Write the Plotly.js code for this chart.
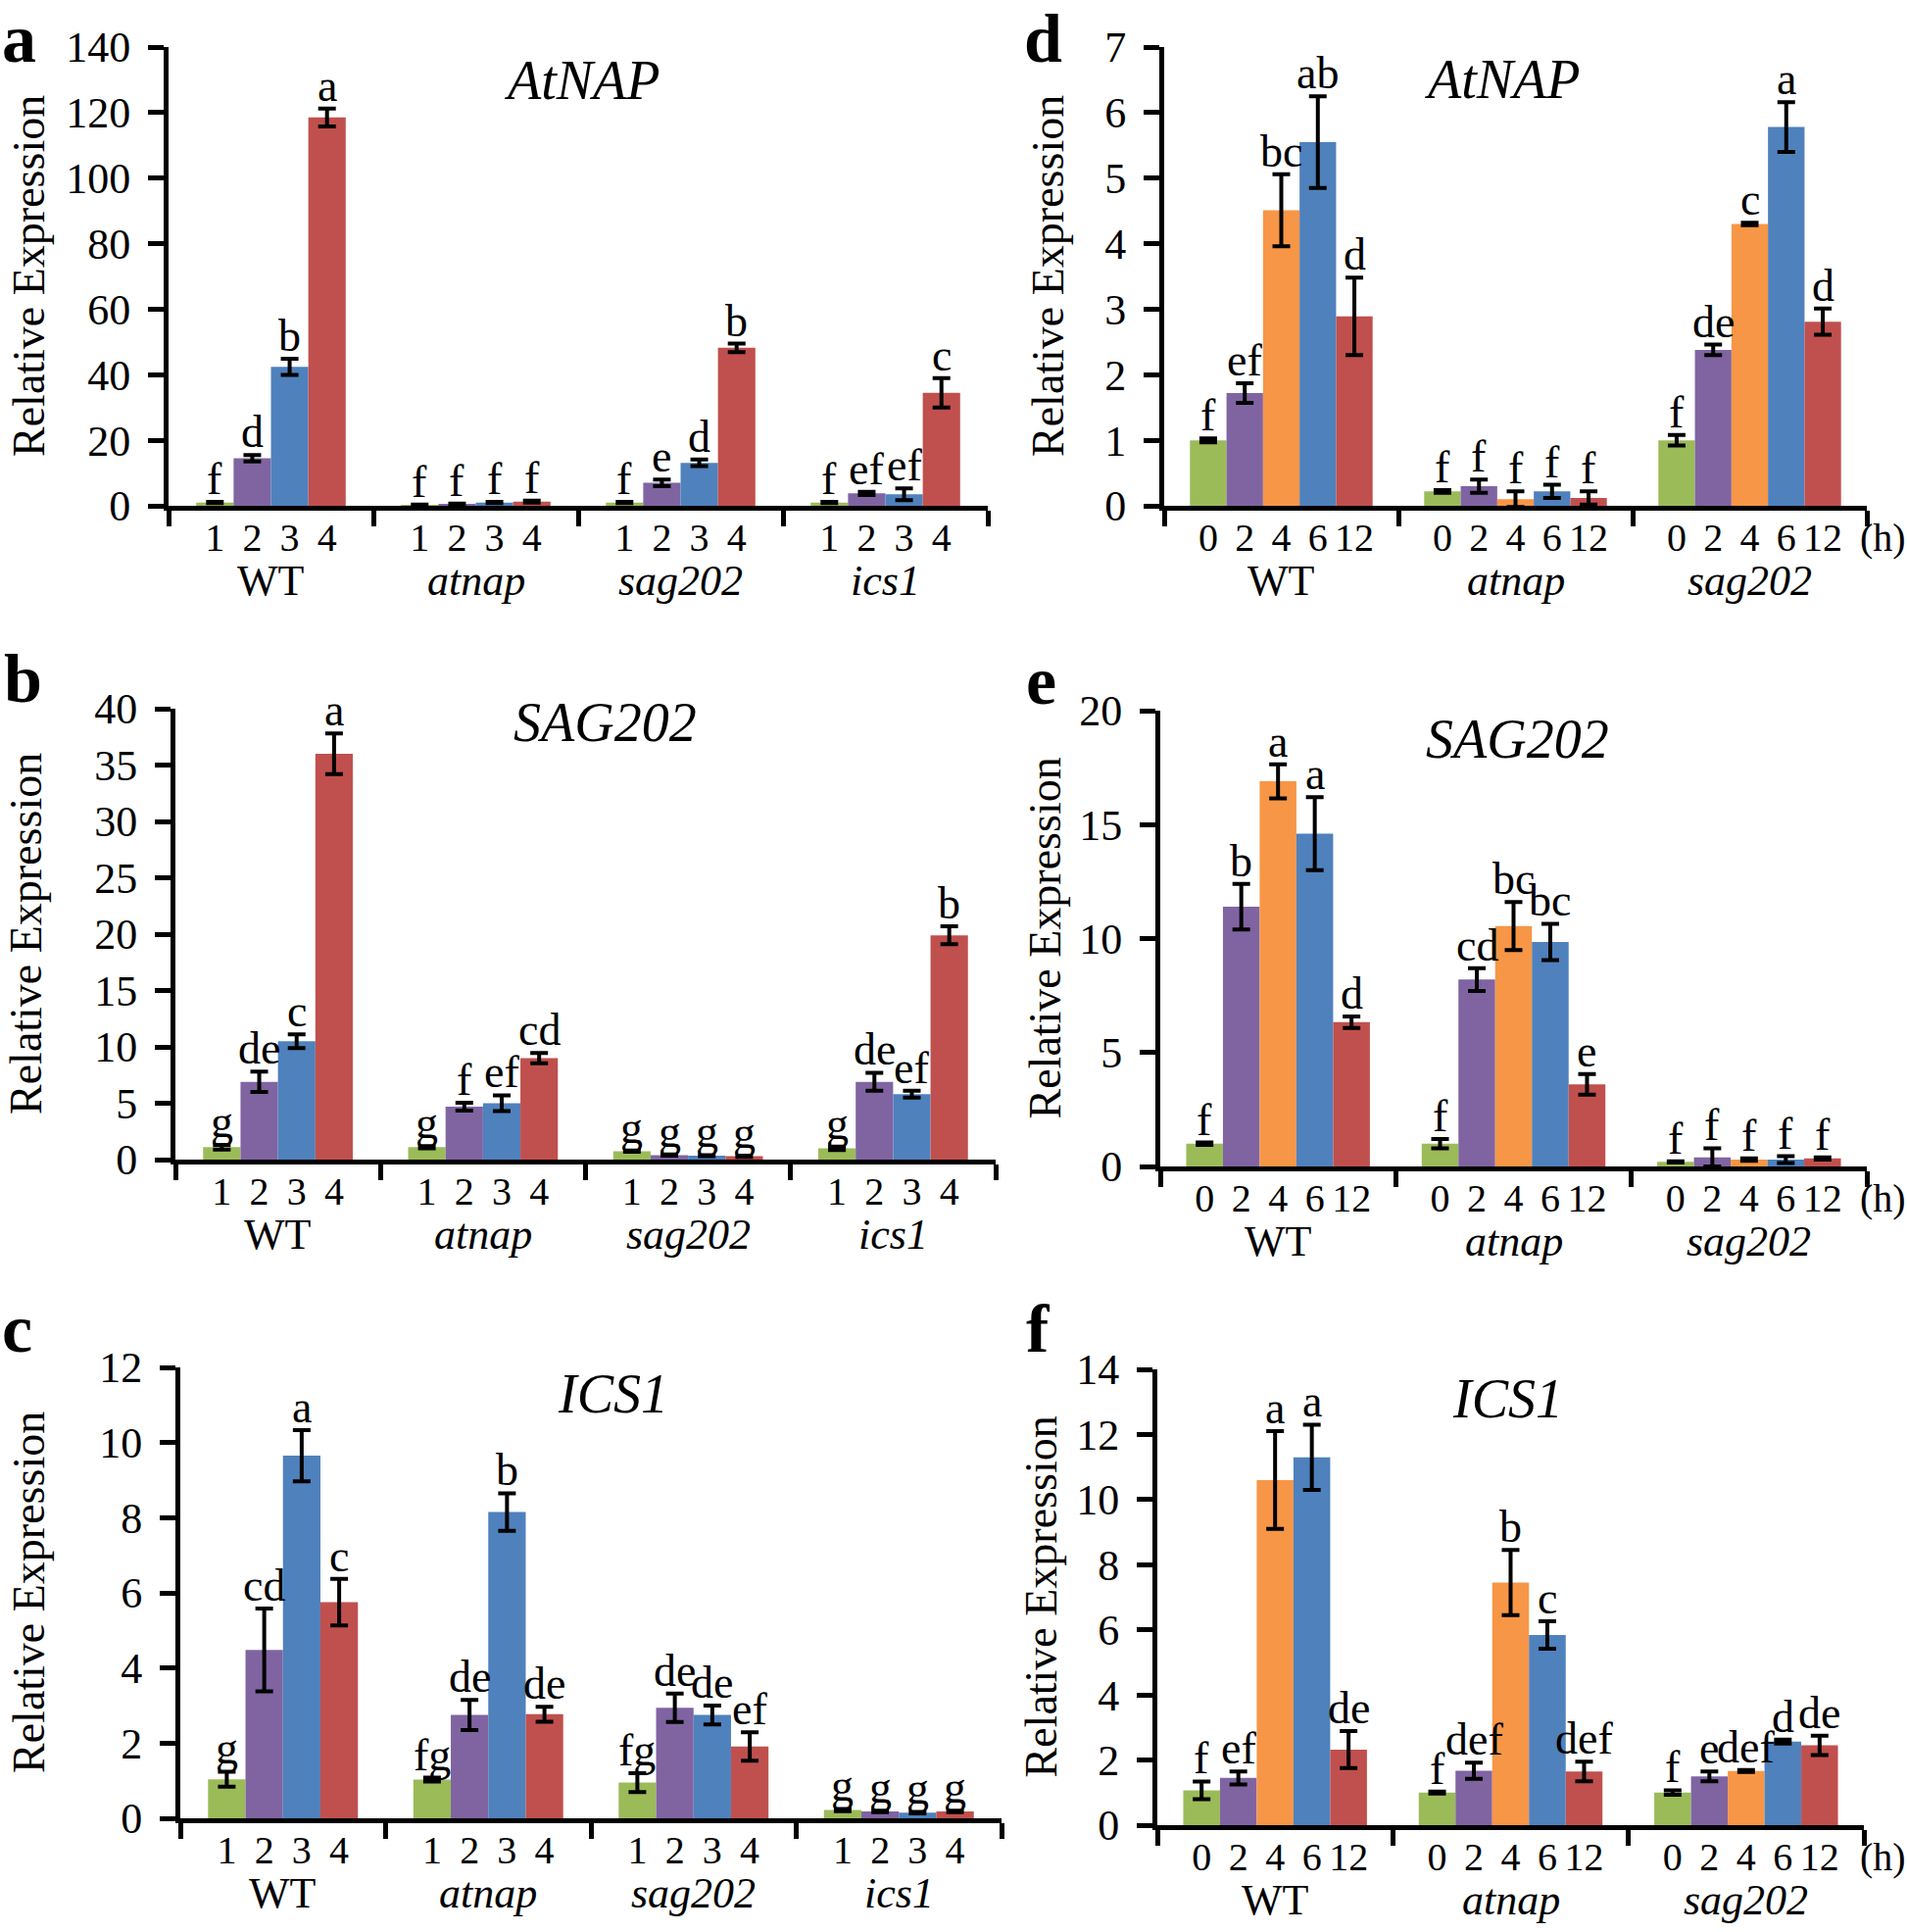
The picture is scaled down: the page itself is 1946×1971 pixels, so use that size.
<!DOCTYPE html>
<html>
<head>
<meta charset="utf-8">
<script src="https://cdn.plot.ly/plotly-3.0.1.min.js"></script>
<style>html,body{margin:0;padding:0;background:#fff;}</style>
</head>
<body>
<div id="chart" style="width:1946px;height:1971px;"></div>
<script>
// ---------- categories / tick labels ----------
const groupsABC = ["WT", "<i>atnap</i>", "<i>sag202</i>", "<i>ics1</i>"];
const groupsDEF = ["WT", "<i>atnap</i>", "<i>sag202</i>"];
const seriesABC = ["1", "2", "3", "4"];
const seriesDEF = ["0", "2", "4", "6", "12"];
const colorsABC = ["#9BBB59", "#8064A2", "#4F81BD", "#C0504D"];
const colorsDEF = ["#9BBB59", "#8064A2", "#F79646", "#4F81BD", "#C0504D"];

// ---------- panel a : AtNAP (rows = series 1..4, cols = WT, atnap, sag202, ics1) ----------
const aMean = [[1.0, 0.3, 1.0, 1.0], [14.5, 0.6, 7.0, 3.8], [42.4, 1.0, 13.1, 3.5], [118.5, 1.3, 48.2, 34.5]];
const aErr  = [[0.2, 0.1, 0.2, 0.2], [1.0, 0.1, 1.0, 0.5], [2.5, 0.2, 1.0, 1.8], [2.7, 0.3, 1.3, 4.5]];
const aLet  = [["f", "f", "f", "f"], ["d", "f", "e", "ef"], ["b", "f", "d", "ef"], ["a", "f", "b", "c"]];

// ---------- panel b : SAG202 ----------
const bMean = [[1.1, 1.1, 0.75, 1.0], [6.9, 4.7, 0.4, 6.9], [10.5, 5.0, 0.35, 5.8], [36.0, 9.0, 0.3, 19.9]];
const bErr  = [[0.2, 0.1, 0.05, 0.15], [0.9, 0.35, 0.05, 0.8], [0.6, 0.7, 0.05, 0.3], [1.8, 0.45, 0.05, 0.8]];
const bLet  = [["g", "g", "g", "g"], ["de", "f", "g", "de"], ["c", "ef", "g", "ef"], ["a", "cd", "g", "b"]];

// ---------- panel c : ICS1 ----------
const cMean = [[1.04, 1.03, 0.95, 0.22], [4.48, 2.75, 2.94, 0.18], [9.65, 8.15, 2.75, 0.15], [5.75, 2.77, 1.91, 0.18]];
const cErr  = [[0.2, 0.05, 0.25, 0.03], [1.1, 0.4, 0.38, 0.02], [0.68, 0.5, 0.25, 0.02], [0.62, 0.2, 0.38, 0.02]];
const cLet  = [["g", "fg", "fg", "g"], ["cd", "de", "de", "g"], ["a", "b", "de", "g"], ["c", "de", "ef", "g"]];

// ---------- panel d : AtNAP time course (rows = 0,2,4,6,12 h; cols = WT, atnap, sag202) ----------
const dMean = [[1.0, 0.22, 1.0], [1.72, 0.3, 2.38], [4.51, 0.1, 4.3], [5.55, 0.22, 5.78], [2.89, 0.12, 2.81]];
const dErr  = [[0.03, 0.02, 0.08], [0.15, 0.1, 0.08], [0.55, 0.12, 0.02], [0.7, 0.1, 0.38], [0.59, 0.1, 0.2]];
const dLet  = [["f", "f", "f"], ["ef", "f", "de"], ["bc", "f", "c"], ["ab", "f", "a"], ["d", "f", "d"]];

// ---------- panel e : SAG202 time course ----------
const eMean = [[1.0, 1.0, 0.2], [11.4, 8.2, 0.4], [16.9, 10.55, 0.3], [14.6, 9.85, 0.3], [6.33, 3.6, 0.35]];
const eErr  = [[0.05, 0.2, 0.03], [1.0, 0.5, 0.4], [0.75, 1.05, 0.05], [1.6, 0.8, 0.15], [0.25, 0.45, 0.05]];
const eLet  = [["f", "f", "f"], ["b", "cd", "f"], ["a", "bc", "f"], ["a", "bc", "f"], ["d", "e", "f"]];

// ---------- panel f : ICS1 time course ----------
const fMean = [[1.07, 1.0, 1.0], [1.45, 1.67, 1.5], [10.6, 7.45, 1.66], [11.3, 5.84, 2.57], [2.32, 1.65, 2.45]];
const fErr  = [[0.27, 0.03, 0.07], [0.2, 0.25, 0.15], [1.5, 1.0, 0.03], [1.0, 0.42, 0.06], [0.57, 0.3, 0.3]];
const fLet  = [["f", "f", "f"], ["ef", "def", "e"], ["a", "b", "def"], ["a", "c", "d"], ["de", "def", "de"]];

// ---------- layout helpers ----------
const W = 1946, H = 1971;
const FONT = "Liberation Serif, Times New Roman, serif";

const panels = [
  {tag: "a", gene: "AtNAP",  groups: groupsABC, series: seriesABC, colors: colorsABC, mean: aMean, err: aErr, lets: aLet,
   ymax: 140, dtick: 20, box: [172, 48, 1008, 516], frac: 0.73, geneXY: [594, 82], tagXY: [0, 62], ytX: 29, hours: false},
  {tag: "b", gene: "SAG202", groups: groupsABC, series: seriesABC, colors: colorsABC, mean: bMean, err: bErr, lets: bLet,
   ymax: 40, dtick: 5, box: [179, 723, 1016, 1183], frac: 0.73, geneXY: [617, 737], tagXY: [2, 715], ytX: 27, hours: false},
  {tag: "c", gene: "ICS1",   groups: groupsABC, series: seriesABC, colors: colorsABC, mean: cMean, err: cErr, lets: cLet,
   ymax: 12, dtick: 2, box: [184, 1395, 1022, 1855], frac: 0.73, geneXY: [625, 1422], tagXY: [0, 1378], ytX: 29, hours: false},
  {tag: "d", gene: "AtNAP",  groups: groupsDEF, series: seriesDEF, colors: colorsDEF, mean: dMean, err: dErr, lets: dLet,
   ymax: 7, dtick: 1, box: [1188, 48, 1905, 516], frac: 0.78, geneXY: [1533, 81], tagXY: [1043, 62], ytX: 1069, hours: true},
  {tag: "e", gene: "SAG202", groups: groupsDEF, series: seriesDEF, colors: colorsDEF, mean: eMean, err: eErr, lets: eLet,
   ymax: 20, dtick: 5, box: [1184, 725, 1905, 1190], frac: 0.78, geneXY: [1548, 754], tagXY: [1045, 717], ytX: 1066, hours: true},
  {tag: "f", gene: "ICS1",   groups: groupsDEF, series: seriesDEF, colors: colorsDEF, mean: fMean, err: fErr, lets: fLet,
   ymax: 14, dtick: 2, box: [1181, 1397, 1902, 1862], frac: 0.78, geneXY: [1538, 1427], tagXY: [1045, 1378], ytX: 1062, hours: true}
];

const data = [];
const annotations = [];
const layout = {
  width: W, height: H,
  margin: {l: 0, r: 0, t: 0, b: 0},
  paper_bgcolor: "#fff", plot_bgcolor: "rgba(0,0,0,0)",
  barmode: "overlay",
  showlegend: false,
  font: {family: FONT, color: "#000"},
  annotations: annotations
};

panels.forEach((p, k) => {
  const n = k + 1;
  const sfx = n === 1 ? "" : String(n);
  const xa = "x" + sfx, ya = "y" + sfx;
  const G = p.groups.length, S = p.series.length;
  const w = p.frac / S;
  const gIdx = p.groups.map((_, g) => g);

  // bars (one trace per series, grouped by explicit offset)
  p.mean.forEach((vals, i) => {
    data.push({
      type: "bar", x: gIdx, y: vals, width: w, offset: -p.frac / 2 + i * w,
      marker: {color: p.colors[i], line: {width: 0}},
      error_y: {type: "data", array: p.err[i], visible: true, color: "#000", thickness: 4, width: 9},
      xaxis: xa, yaxis: ya, showlegend: false, hoverinfo: "skip"
    });
  });

  // sub-tick positions (bar centres) and labels
  const tickvals = [], ticktext = [];
  gIdx.forEach(g => {
    p.series.forEach((s, i) => {
      tickvals.push(g - p.frac / 2 + (i + 0.5) * w);
      ticktext.push(s);
    });
  });
  const bounds = [];
  for (let g = 0; g <= G; g++) bounds.push(g - 0.5);

  layout["xaxis" + sfx] = {
    domain: [p.box[0] / W, p.box[2] / W], range: [-0.5, G - 0.5], anchor: ya,
    showline: true, linecolor: "#000", linewidth: 5, showgrid: false, zeroline: false,
    tickmode: "array", tickvals: tickvals, ticktext: ticktext, ticks: "",
    tickfont: {family: FONT, size: 40, color: "#000"}, ticklabelstandoff: -7,
    minor: {tickmode: "array", tickvals: bounds, ticks: "outside", ticklen: 16, tickwidth: 5, tickcolor: "#000", showgrid: false},
    fixedrange: true
  };
  layout["yaxis" + sfx] = {
    domain: [1 - p.box[3] / H, 1 - p.box[1] / H], range: [0, p.ymax], anchor: xa,
    showline: true, linecolor: "#000", linewidth: 5,
    ticks: "outside", ticklen: 16, tickwidth: 5, tickcolor: "#000",
    tickmode: "linear", tick0: 0, dtick: p.dtick,
    showgrid: false, zeroline: false,
    tickfont: {family: FONT, size: 44, color: "#000"}, ticklabelstandoff: 9,
    fixedrange: true
  };

  // significance letters above error bars
  p.mean.forEach((vals, i) => {
    vals.forEach((v, g) => {
      annotations.push({
        xref: xa, yref: ya, x: g - p.frac / 2 + (i + 0.5) * w, y: v + p.err[i][g],
        text: p.lets[i][g], showarrow: false, xanchor: "center", yanchor: "bottom", yshift: -4,
        font: {family: FONT, size: 46, color: "#000"}
      });
    });
  });

  // genotype names under the groups
  p.groups.forEach((name, g) => {
    annotations.push({
      xref: xa, yref: ya, x: g, y: 0, text: name, showarrow: false,
      xanchor: "center", yanchor: "top", yshift: -50,
      font: {family: FONT, size: 44, color: "#000"}
    });
  });

  if (p.hours) {
    annotations.push({
      xref: "paper", yref: ya, x: 1921 / W, y: 0, text: "(h)", showarrow: false,
      xanchor: "center", yanchor: "top", yshift: -8,
      font: {family: FONT, size: 40, color: "#000"}
    });
  }

  // gene title
  annotations.push({
    xref: "paper", yref: "paper", x: p.geneXY[0] / W, y: 1 - p.geneXY[1] / H,
    text: "<i>" + p.gene + "</i>", showarrow: false, xanchor: "center", yanchor: "middle",
    font: {family: FONT, size: 56, color: "#000"}
  });

  // panel tag
  annotations.push({
    xref: "paper", yref: "paper", x: p.tagXY[0] / W, y: 1 - p.tagXY[1] / H,
    text: "<b>" + p.tag + "</b>", showarrow: false, xanchor: "left", yanchor: "bottom", yshift: -18,
    font: {family: FONT, size: 70, color: "#000"}
  });

  // y-axis title
  annotations.push({
    xref: "paper", yref: "paper", x: p.ytX / W, y: 1 - (p.box[1] + p.box[3]) / 2 / H,
    text: "Relative Expression", textangle: -90, showarrow: false, xanchor: "center", yanchor: "middle",
    font: {family: FONT, size: 46, color: "#000"}
  });
});

Plotly.newPlot("chart", data, layout, {staticPlot: true, displayModeBar: false});
</script>
</body>
</html>
